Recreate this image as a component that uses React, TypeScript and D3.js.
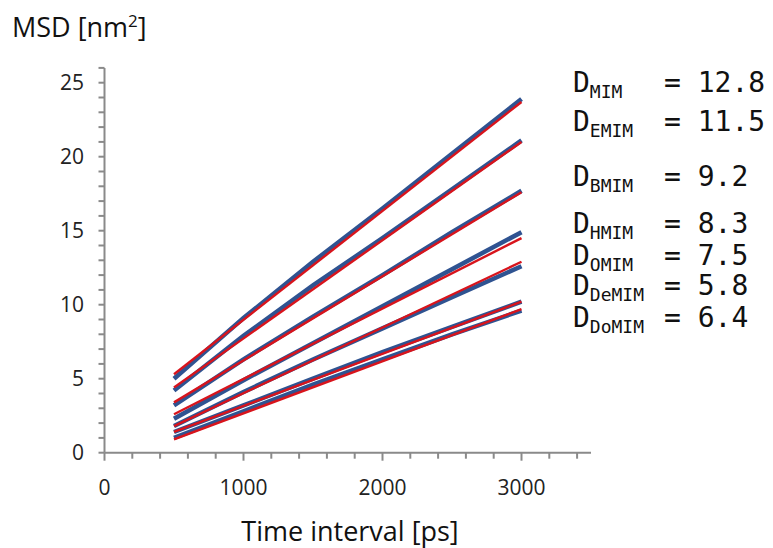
import React from "react";
import * as d3 from "d3";

const times = [500, 1000, 1500, 2000, 2500, 3000];
const fitTimes = [500, 3000];

const msdMIM = [5.0, 9.1, 12.9, 16.5, 20.2, 23.9];
const msdEMIM = [4.2, 7.9, 11.3, 14.5, 17.8, 21.1];
const msdBMIM = [3.2, 6.3, 9.2, 12.0, 14.9, 17.7];
const msdHMIM = [2.3, 4.9, 7.4, 9.9, 12.4, 14.9];
const msdOMIM = [1.8, 4.1, 6.3, 8.4, 10.5, 12.6];
const msdDeMIM = [1.4, 3.2, 5.0, 6.8, 8.5, 10.2];
const msdDoMIM = [1.0, 2.8, 4.6, 6.3, 8.0, 9.6];

const fitMIM = [5.3, 23.7];
const fitEMIM = [4.4, 21.0];
const fitBMIM = [3.4, 17.6];
const fitHMIM = [2.6, 14.5];
const fitOMIM = [1.8, 12.9];
const fitDeMIM = [1.4, 10.2];
const fitDoMIM = [0.9, 9.7];

const liquids = ["MIM", "EMIM", "BMIM", "HMIM", "OMIM", "DeMIM", "DoMIM"];
const diffusion = ["12.8", "11.5", "9.2", "8.3", "7.5", "5.8", "6.4"];

const xTicks = [0, 1000, 2000, 3000];
const yTicks = [0, 5, 10, 15, 20, 25];

const dataSeries = [msdMIM, msdEMIM, msdBMIM, msdHMIM, msdOMIM, msdDeMIM, msdDoMIM];
const fitSeries = [fitMIM, fitEMIM, fitBMIM, fitHMIM, fitOMIM, fitDeMIM, fitDoMIM];

const legendBaselines = [92, 131, 186, 233, 265, 295, 327];

export default function App() {
  const x = d3.scaleLinear().domain([0, 3500]).range([104.5, 591]);
  const y = d3.scaleLinear().domain([0, 26]).range([452.7, 67.9]);
  const line = d3
    .line<[number, number]>()
    .x((d) => x(d[0]))
    .y((d) => y(d[1]));

  const minorX = d3.range(0, 3500, 200);
  const minorY = d3.range(0, 27, 1);
  const axisColor = "#8a8a8a";
  const sans = "'Open Sans', 'Noto Sans', sans-serif";
  const mono = "'DejaVu Sans Mono', monospace";

  return (
    <svg
      width={773}
      height={548}
      style={{ position: "absolute", left: 0, top: 0, background: "#fff" }}
    >
      <rect x={0} y={0} width={773} height={548} fill="#fff" />
      {/* axes */}
      <line x1={x(0)} x2={x(3500)} y1={y(0)} y2={y(0)} stroke={axisColor} strokeWidth={2} />
      <line x1={x(0)} x2={x(0)} y1={y(0)} y2={y(26)} stroke={axisColor} strokeWidth={2} />
      {minorX.map((t) => (
        <line
          key={"mx" + t}
          x1={x(t)}
          x2={x(t)}
          y1={y(0)}
          y2={y(0) + (t % 1000 === 0 ? 8 : 6)}
          stroke={axisColor}
          strokeWidth={2}
        />
      ))}
      {minorY.map((t) => (
        <line
          key={"my" + t}
          x1={x(0) - 6}
          x2={x(0)}
          y1={y(t)}
          y2={y(t)}
          stroke={axisColor}
          strokeWidth={2}
        />
      ))}
      {xTicks.map((t) => (
        <text
          key={"xt" + t}
          x={x(t)}
          y={495}
          textAnchor="middle"
          fontFamily={sans}
          fontSize={21}
          fill="#222"
        >
          {t}
        </text>
      ))}
      {yTicks.map((t) => (
        <text
          key={"yt" + t}
          x={84}
          y={y(t)}
          dy="0.36em"
          textAnchor="end"
          fontFamily={sans}
          fontSize={21}
          fill="#222"
        >
          {t}
        </text>
      ))}
      <text x={12} y={37} fontFamily={sans} fontSize={27} fill="#111">
        MSD [nm
        <tspan dy={-10} fontSize={17}>2</tspan>
        <tspan dy={10}>]</tspan>
      </text>
      <text
        x={350}
        y={541}
        textAnchor="middle"
        fontFamily={sans}
        fontSize={27}
        fill="#111"
      >
        Time interval [ps]
      </text>

      {/* series */}
      {dataSeries.map((vals, i) => (
        <path
          key={"d" + i}
          d={line(times.map((t, j) => [t, vals[j]]) as [number, number][]) || ""}
          fill="none"
          stroke="#2f5391"
          strokeWidth={4.5}
        />
      ))}
      {fitSeries.map((vals, i) => (
        <path
          key={"f" + i}
          d={line(fitTimes.map((t, j) => [t, vals[j]]) as [number, number][]) || ""}
          fill="none"
          stroke="#d8141c"
          strokeWidth={2.4}
        />
      ))}

      {/* legend */}
      {liquids.map((name, i) => (
        <g key={"lg" + i}>
          <text x={573} y={legendBaselines[i]} fontFamily={mono} fontSize={28} fill="#111">
            D
            <tspan dy={6} fontSize={18}>{name}</tspan>
          </text>
          <text x={664} y={legendBaselines[i]} fontFamily={mono} fontSize={28} fill="#111">
            {"= " + diffusion[i]}
          </text>
        </g>
      ))}
    </svg>
  );
}
